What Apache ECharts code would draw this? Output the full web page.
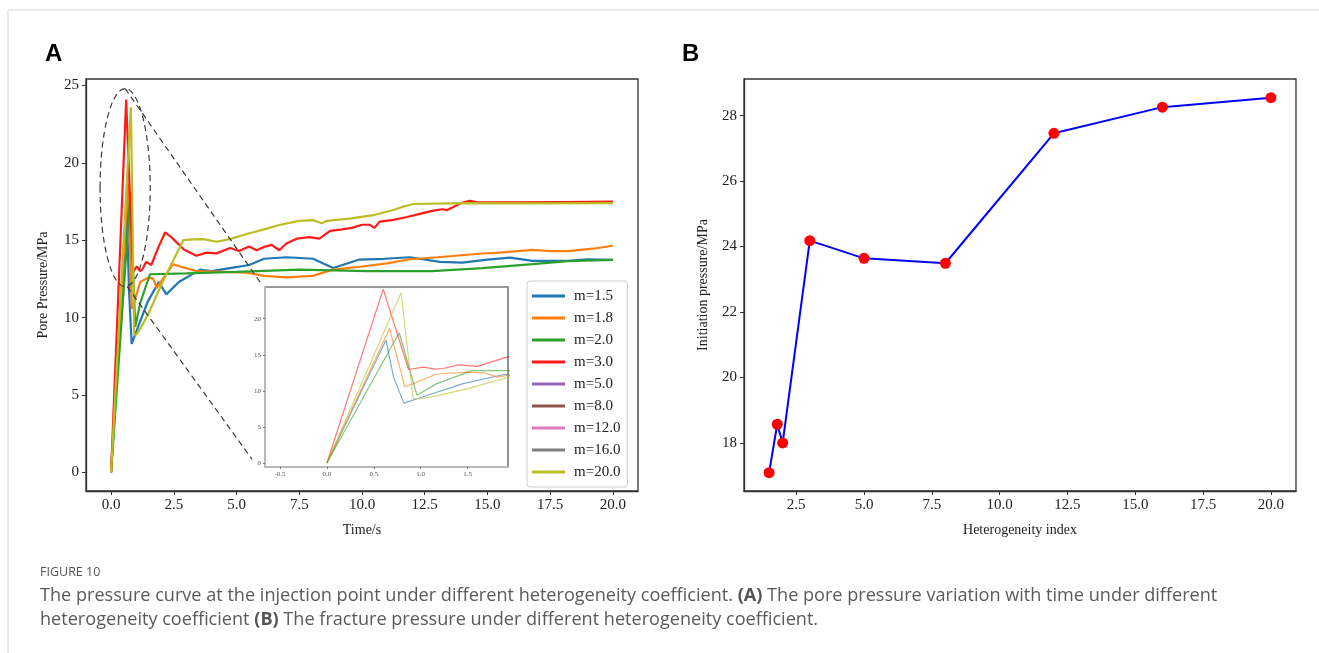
<!DOCTYPE html>
<html><head><meta charset="utf-8">
<script src="https://cdn.jsdelivr.net/npm/echarts@6/dist/echarts.min.js"></script>
<style>html,body{margin:0;padding:0;background:#fff}#c{width:1319px;height:653px}</style>
</head><body><div id="c"></div>
<script>
// ---------------- DATA ----------------
const seriesNames = ['m=1.5','m=1.8','m=2.0','m=3.0','m=5.0','m=8.0','m=12.0','m=16.0','m=20.0'];
const seriesColors = ['#1f77b4','#ff7f0e','#2ca02c','#ff1a1a','#9467bd','#8c564b','#e377c2','#7f7f7f','#bcbd22'];

// [time (s), pore pressure (MPa)]
const m15 = [[0,0],[0.63,17.04],[0.71,11.9],[0.82,8.3],[0.96,8.9],[1.45,11.0],[1.9,12.3],[2.2,11.5],[2.7,12.3],[3.55,13.1],[4.0,13.0],[4.74,13.2],[5.5,13.4],[6.1,13.8],[7.0,13.9],[8.05,13.8],[8.85,13.2],[9.9,13.75],[10.9,13.8],[11.9,13.9],[13.1,13.6],[14.0,13.55],[15.0,13.75],[15.9,13.88],[16.8,13.66],[18.2,13.66],[19.0,13.77],[20,13.73]];
const m18 = [[0,0],[0.667,18.66],[0.83,10.56],[0.92,11.0],[1.16,12.3],[1.5,12.6],[1.68,12.5],[1.82,11.9],[2.1,12.6],[2.48,13.45],[2.75,13.3],[3.4,13.0],[4.5,12.95],[5.4,12.9],[6.1,12.7],[7.0,12.6],[8.05,12.7],[8.85,13.1],[10.0,13.3],[11.0,13.5],[11.9,13.77],[13.0,13.9],[14.8,14.14],[15.5,14.2],[16.8,14.38],[17.5,14.3],[18.2,14.3],[19.2,14.45],[20,14.64]];
const m20 = [[0,0],[0.77,18.06],[0.96,9.4],[1.17,11.0],[1.55,12.8],[3.0,12.85],[5.0,12.95],[7.5,13.1],[10.2,13.0],[12.8,13.0],[14.8,13.2],[16.8,13.45],[18.2,13.65],[20,13.73]];
const m30 = [[0,0],[0.6,24.1],[0.87,12.96],[1.03,13.3],[1.15,13.0],[1.24,13.1],[1.4,13.6],[1.6,13.4],[1.9,14.6],[2.15,15.5],[2.4,15.2],[2.9,14.4],[3.4,14.0],[3.8,14.2],[4.2,14.15],[4.74,14.5],[5.1,14.3],[5.5,14.6],[5.8,14.35],[6.07,14.55],[6.4,14.7],[6.7,14.35],[7.0,14.8],[7.4,15.1],[7.9,15.2],[8.3,15.1],[8.73,15.6],[9.2,15.7],[9.6,15.8],[10.0,16.0],[10.3,16.0],[10.5,15.8],[10.7,16.2],[11.2,16.3],[11.8,16.5],[12.3,16.7],[12.8,16.9],[13.2,17.0],[13.4,16.95],[13.7,17.2],[14.0,17.44],[14.3,17.55],[14.6,17.45],[16,17.45],[18,17.47],[20,17.49]];
const m50 = [];
const m80 = [];
const m120 = [];
const m160 = [];
const m200 = [[0,0],[0.79,23.6],[0.92,8.9],[1.02,8.92],[1.17,9.3],[1.5,10.3],[2.08,12.4],[2.48,13.7],[2.88,15.0],[3.3,15.05],[3.68,15.07],[4.21,14.9],[4.8,15.1],[5.41,15.4],[6.1,15.7],[6.74,16.0],[7.5,16.25],[8.05,16.3],[8.4,16.1],[8.6,16.25],[9.5,16.4],[10.4,16.6],[11.25,16.95],[11.6,17.15],[12.05,17.34],[14,17.4],[16,17.38],[20,17.4]];
const seriesData = [m15,m18,m20,m30,m50,m80,m120,m160,m200];

const timeTicks = [0,2.5,5,7.5,10,12.5,15,17.5,20];
const poreTicks = [0,5,10,15,20,25];
const insetXTicks = [-0.5,0,0.5,1,1.5];
const insetYTicks = [0,5,10,15,20];

const hetIndex = [1.5,1.8,2.0,3.0,5.0,8.0,12.0,16.0,20.0];
const initPressure = [17.09,18.57,18.0,24.18,23.64,23.49,27.46,28.26,28.55];
const hetTicks = [2.5,5,7.5,10,12.5,15,17.5,20];
const initTicks = [18,20,22,24,26,28];

// ---------------- STYLE ----------------
const SERIF = 'Liberation Serif';
function axis(opts) {
  return Object.assign({
    type: 'value',
    splitLine: {show: false},
    axisLine: {show: true, onZero: false, lineStyle: {color: '#333', width: 1.3}},
    axisTick: {show: true, inside: false, length: 4, lineStyle: {color: '#333', width: 1}, customValues: opts.ticks},
    axisLabel: {customValues: opts.ticks, fontFamily: SERIF, fontSize: 15, color: '#222', margin: 7, formatter: opts.fmt},
    nameTextStyle: {fontFamily: SERIF, fontSize: 14, color: '#222'},
    nameLocation: 'middle'
  }, opts.extra);
}
const f1 = v => v.toFixed(1);
const f0 = v => String(Math.round(v));

const series = [];
seriesNames.forEach((n, i) => {
  series.push({type: 'line', name: n, xAxisIndex: 0, yAxisIndex: 0, data: seriesData[i], showSymbol: false, symbol: 'none',
    color: seriesColors[i], lineStyle: {width: 2.2, color: seriesColors[i]}, z: 2, silent: true});
});
seriesNames.forEach((n, i) => {
  series.push({type: 'line', name: 'inset ' + n, xAxisIndex: 1, yAxisIndex: 1, data: seriesData[i], showSymbol: false, symbol: 'none',
    lineStyle: {width: 1.2, color: seriesColors[i], opacity: 0.6}, z: 7, silent: true});
});
series.push({type: 'line', name: 'initiation', xAxisIndex: 2, yAxisIndex: 2,
  data: hetIndex.map((x, i) => [x, initPressure[i]]), symbol: 'circle', symbolSize: 11, showSymbol: true,
  lineStyle: {color: '#0000ff', width: 2}, itemStyle: {color: '#ff0000'}, z: 3, silent: true});

const chart = echarts.init(document.getElementById('c'), null, {renderer: 'canvas'});
chart.setOption({
  animation: false,
  backgroundColor: '#fff',
  grid: [
    {left: 86, top: 79, width: 552, height: 412, show: true, borderColor: '#333', borderWidth: 1.3, z: 2},
    {left: 265, top: 287, width: 243, height: 180, show: true, backgroundColor: '#fff', borderColor: '#777', borderWidth: 1.6, z: 5},
    {left: 744, top: 79, width: 552, height: 412, show: true, borderColor: '#333', borderWidth: 1.3, z: 2}
  ],
  xAxis: [
    axis({ticks: timeTicks, fmt: f1, extra: {gridIndex: 0, min: -1, max: 21, name: 'Time/s', nameGap: 32}}),
    axis({ticks: insetXTicks, fmt: f1, extra: {gridIndex: 1, min: -0.66, max: 1.93, z: 6,
      axisLine: {show: true, onZero: false, lineStyle: {color: '#c4c4c4', width: 1.6}},
      axisTick: {show: true, length: 2, lineStyle: {color: '#777'}, customValues: insetXTicks},
      axisLabel: {customValues: insetXTicks, fontFamily: SERIF, fontSize: 7, color: '#555', margin: 4, formatter: f1}}}),
    axis({ticks: hetTicks, fmt: f1, extra: {gridIndex: 2, min: 0.575, max: 20.925, name: 'Heterogeneity index', nameGap: 32}})
  ],
  yAxis: [
    axis({ticks: poreTicks, fmt: f0, extra: {gridIndex: 0, min: -1.21, max: 25.42, name: 'Pore Pressure/MPa', nameGap: 36}}),
    axis({ticks: insetYTicks, fmt: f0, extra: {gridIndex: 1, min: -0.56, max: 24.4, z: 6,
      axisLine: {show: true, onZero: false, lineStyle: {color: '#c4c4c4', width: 1.6}},
      axisTick: {show: true, length: 2, lineStyle: {color: '#777'}, customValues: insetYTicks},
      axisLabel: {customValues: insetYTicks, fontFamily: SERIF, fontSize: 7, color: '#555', margin: 4, formatter: f0}}}),
    axis({ticks: initTicks, fmt: f0, extra: {gridIndex: 2, min: 16.53, max: 29.12, name: 'Initiation pressure/MPa', nameGap: 34}})
  ],
  legend: {
    data: seriesNames, orient: 'vertical', left: 527, top: 281, icon: 'rect', itemWidth: 33, itemHeight: 3, itemGap: 6,
    padding: [7, 7, 7, 5], borderColor: '#cfcfcf', borderWidth: 1, borderRadius: 3, backgroundColor: '#fff',
    selectedMode: false, textStyle: {fontFamily: SERIF, fontSize: 15, color: '#222', lineHeight: 16, padding: [0, 0, 0, 4]}
  },
  series: series
});

// ------- annotations (zoom ellipse + connectors), in data units of the main axes -------
const zoomEllipse = {t: 0.56, p: 18.4, rt: 1.0, rp: 6.4};
const connUpper = [[0.56, 24.8], [6.02, 12.1]];
const connLower = [[0.64, 12.0], [5.62, 0.84]];
const c = chart.convertToPixel({gridIndex: 0}, [zoomEllipse.t, zoomEllipse.p]);
const e = chart.convertToPixel({gridIndex: 0}, [zoomEllipse.t + zoomEllipse.rt, zoomEllipse.p + zoomEllipse.rp]);
const px = p => chart.convertToPixel({gridIndex: 0}, p);
const dash = {stroke: '#3a3a3a', lineWidth: 1.2, lineDash: [6, 4], fill: null};
const u0 = px(connUpper[0]), u1 = px(connUpper[1]), l0 = px(connLower[0]), l1 = px(connLower[1]);

const capStyle = {fontFamily: 'Open Sans', fontSize: 18.1, fill: '#5a5a5a'};
const capBold = {b: {fontFamily: 'Open Sans', fontWeight: 'bold', fontSize: 18.1, fill: '#555'}};
chart.setOption({
  graphic: [
    {type: 'line', shape: {x1: 8, y1: 10, x2: 1319, y2: 10}, style: {stroke: '#d4d4d4', lineWidth: 1}, z: 1},
    {type: 'line', shape: {x1: 8, y1: 10, x2: 8, y2: 653}, style: {stroke: '#d4d4d4', lineWidth: 1}, z: 1},
    {type: 'ellipse', shape: {cx: c[0], cy: c[1], rx: Math.abs(e[0] - c[0]), ry: Math.abs(e[1] - c[1])}, style: dash, z: 10, silent: true},
    {type: 'line', shape: {x1: u0[0], y1: u0[1], x2: u1[0], y2: u1[1]}, style: dash, z: 10, silent: true},
    {type: 'line', shape: {x1: l0[0], y1: l0[1], x2: l1[0], y2: l1[1]}, style: dash, z: 10, silent: true},
    {type: 'text', x: 45, y: 54, style: {text: 'A', fontFamily: 'Liberation Sans', fontWeight: 'bold', fontSize: 24, fill: '#000', verticalAlign: 'middle'}},
    {type: 'text', x: 682, y: 54, style: {text: 'B', fontFamily: 'Liberation Sans', fontWeight: 'bold', fontSize: 24, fill: '#000', verticalAlign: 'middle'}},
    {type: 'text', x: 40, y: 572, style: {text: 'FIGURE 10', fontFamily: 'Open Sans', fontSize: 12.5, fill: '#555', verticalAlign: 'middle'}},
    {type: 'text', x: 40, y: 596, style: Object.assign({
      text: 'The pressure curve at the injection point under different heterogeneity coefficient. {b|(A)} The pore pressure variation with time under different',
      verticalAlign: 'middle', rich: capBold}, capStyle)},
    {type: 'text', x: 40, y: 620, style: Object.assign({
      text: 'heterogeneity coefficient {b|(B)} The fracture pressure under different heterogeneity coefficient.',
      verticalAlign: 'middle', rich: capBold}, capStyle)}
  ]
});
</script>
</body></html>
